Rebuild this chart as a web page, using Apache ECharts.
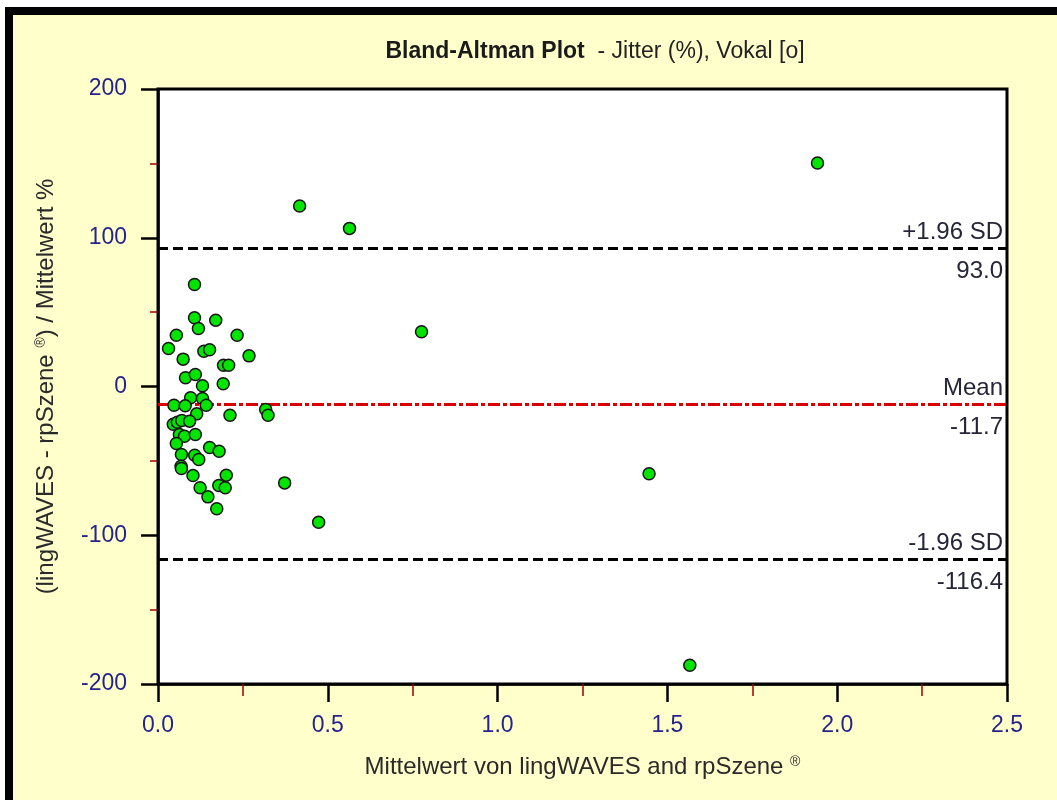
<!DOCTYPE html>
<html>
<head>
<meta charset="utf-8">
<script src="https://cdn.jsdelivr.net/npm/echarts@6/dist/echarts.min.js"></script>
<style>
  html, body { margin: 0; padding: 0; background: #ffffff; }
  #chart { width: 1057px; height: 800px; }
</style>
</head>
<body>
<div id="chart"></div>
<script>
// Mean of the two methods (Jitter %) for each recording
const meanValues = [
  0.1075, 0.1075, 0.119, 0.170, 0.054, 0.233, 0.031, 0.135, 0.152, 0.268,
  0.074, 0.193, 0.208, 0.081, 0.110, 0.131, 0.192, 0.096, 0.131, 0.047,
  0.080, 0.142, 0.114, 0.212, 0.317, 0.324, 0.045, 0.057, 0.070, 0.093,
  0.063, 0.078, 0.110, 0.054, 0.069, 0.108, 0.120, 0.152, 0.180, 0.068,
  0.069, 0.103, 0.201, 0.179, 0.198, 0.124, 0.147, 0.173, 0.373,
  0.417, 0.564, 0.776, 0.473, 1.446, 1.566, 1.942
];
// Difference between the methods relative to their mean, in percent
const diffPercent = [
  68.6, 46.2, 39.0, 44.6, 34.5, 34.5, 25.6, 23.7, 24.7, 20.6,
  18.4, 14.3, 14.3, 5.9, 8.1, 0.5, 1.8, -7.6, -8.1, -12.6,
  -13.0, -12.6, -18.4, -19.3, -15.5, -19.3, -25.4, -24.0, -22.9, -23.3,
  -32.3, -33.4, -32.3, -38.3, -45.7, -46.2, -49.1, -41.0, -43.5, -53.6,
  -55.1, -59.9, -59.6, -66.6, -68.1, -68.1, -74.2, -82.2, -64.8,
  121.3, 106.3, 36.8, -91.3, -58.7, -187.4, 150.2
];

// Bias and limits of agreement
const meanDiff = -11.7;
const upperLimit = 93.0;
const lowerLimit = -116.4;
const limitNames = ['+1.96 SD', 'Mean', '-1.96 SD'];

// Axis ranges and steps
const xRange = [0, 2.5];
const xStep = 0.5;
const yRange = [-200, 200];
const yStep = 100;

const points = meanValues.map((x, i) => [x, diffPercent[i]]);

const FONT = 'Arial, "Liberation Sans", sans-serif';
const tickColor = '#26248a';
const refLabelColor = '#262638';

function refLabel(text, pos, padTop) {
  return {
    show: true,
    position: pos,
    formatter: text,
    color: refLabelColor,
    fontFamily: FONT,
    fontSize: 24,
    distance: 4,
    padding: [padTop, 0, 0, 0]
  };
}

const chart = echarts.init(document.getElementById('chart'), null, { renderer: 'canvas' });

chart.setOption({
  animation: false,
  backgroundColor: '#ffffcc',
  title: {
    text: '{b|Bland-Altman Plot}{n|  - Jitter (%), Vokal [o]}',
    left: 590,
    top: 35,
    textAlign: 'center',
    textStyle: {
      fontWeight: 'normal',
      rich: {
        b: { fontFamily: FONT, fontSize: 23, fontWeight: 'bold', color: '#1a1a1a' },
        n: { fontFamily: FONT, fontSize: 23, fontWeight: 'normal', color: '#222222' }
      }
    }
  },
  graphic: [
    { type: 'rect', z: -10, shape: { x: 0, y: 0, width: 1057, height: 7 }, style: { fill: '#ffffff' } },
    { type: 'rect', z: -10, shape: { x: 0, y: 0, width: 5, height: 800 }, style: { fill: '#ffffff' } },
    { type: 'rect', z: -9, shape: { x: 5, y: 7, width: 1052, height: 8 }, style: { fill: '#000000' } },
    { type: 'rect', z: -9, shape: { x: 5, y: 7, width: 8, height: 793 }, style: { fill: '#000000' } }
  ],
  grid: {
    left: 158,
    top: 89,
    width: 849,
    height: 595,
    show: true,
    backgroundColor: '#ffffff',
    borderColor: '#000000',
    borderWidth: 3
  },
  xAxis: {
    type: 'value',
    min: xRange[0],
    max: xRange[1],
    interval: xStep,
    name: 'Mittelwert von lingWAVES and rpSzene {sup|®}',
    nameLocation: 'middle',
    nameGap: 71,
    nameTextStyle: {
      fontFamily: FONT,
      fontSize: 24,
      color: '#2a2a2a',
      rich: {
        sup: { fontFamily: FONT, fontSize: 14, color: '#2a2a2a', verticalAlign: 'top' }
      }
    },
    axisLine: { show: true, onZero: false, lineStyle: { color: '#000', width: 2.5 } },
    axisTick: { show: true, inside: false, length: 18, lineStyle: { color: '#000', width: 2.5 } },
    minorTick: { show: true, splitNumber: 2, length: 12, lineStyle: { color: '#a00000', width: 1.5 } },
    splitLine: { show: false },
    axisLabel: {
      margin: 30,
      color: tickColor,
      fontFamily: FONT,
      fontSize: 23,
      formatter: v => v.toFixed(1)
    }
  },
  yAxis: {
    type: 'value',
    min: yRange[0],
    max: yRange[1],
    interval: yStep,
    name: '(lingWAVES - rpSzene {sup|®}) / Mittelwert %',
    nameLocation: 'middle',
    nameRotate: 90,
    nameGap: 100,
    nameTextStyle: {
      fontFamily: FONT,
      fontSize: 24,
      color: '#2a2a2a',
      rich: {
        sup: { fontFamily: FONT, fontSize: 14, color: '#2a2a2a', verticalAlign: 'top' }
      }
    },
    axisLine: { show: true, onZero: false, lineStyle: { color: '#000', width: 2.5 } },
    axisTick: { show: true, inside: false, length: 17, lineStyle: { color: '#000', width: 2.5 } },
    minorTick: { show: true, splitNumber: 2, length: 8, lineStyle: { color: '#a00000', width: 1.5 } },
    splitLine: { show: false },
    axisLabel: {
      margin: 31,
      color: tickColor,
      fontFamily: FONT,
      fontSize: 23
    }
  },
  series: [
    {
      type: 'scatter',
      data: points,
      symbol: 'circle',
      symbolSize: 12,
      z: 5,
      itemStyle: { color: '#00e400', borderColor: '#151515', borderWidth: 1.5, opacity: 1 },
      markLine: {
        silent: true,
        symbol: 'none',
        z: 3,
        data: [
          { yAxis: upperLimit, lineStyle: { color: '#000', width: 3, type: [10, 5] }, label: refLabel(limitNames[0], 'insideEndTop', 0) },
          { yAxis: upperLimit, lineStyle: { color: '#000', width: 3, type: [10, 5] }, label: refLabel(upperLimit.toFixed(1), 'insideEndBottom', 7) },
          { yAxis: meanDiff, lineStyle: { color: '#d80000', width: 3, type: [12, 3, 4, 3] }, label: refLabel(limitNames[1], 'insideEndTop', 0) },
          { yAxis: meanDiff, lineStyle: { color: '#d80000', width: 3, type: [12, 3, 4, 3] }, label: refLabel(meanDiff.toFixed(1), 'insideEndBottom', 7) },
          { yAxis: lowerLimit, lineStyle: { color: '#000', width: 3, type: [10, 5] }, label: refLabel(limitNames[2], 'insideEndTop', 0) },
          { yAxis: lowerLimit, lineStyle: { color: '#000', width: 3, type: [10, 5] }, label: refLabel(lowerLimit.toFixed(1), 'insideEndBottom', 7) }
        ]
      }
    }
  ]
});
</script>
</body>
</html>
